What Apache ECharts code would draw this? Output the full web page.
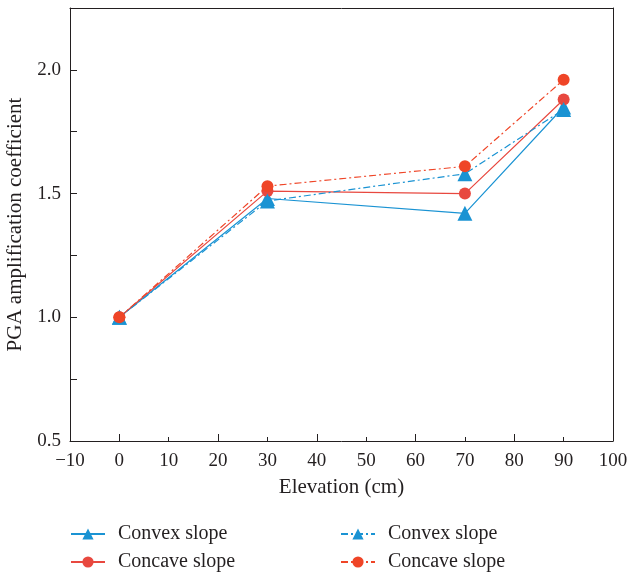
<!DOCTYPE html>
<html>
<head>
<meta charset="utf-8">
<script src="https://cdn.jsdelivr.net/npm/echarts@6/dist/echarts.min.js"></script>
<style>
  html, body { margin: 0; padding: 0; background: #fff; }
  #chart { width: 627px; height: 575px; }
</style>
</head>
<body>
<div id="chart"></div>
<script>
// Elevation of monitoring points (cm)
const elevations = [0, 30, 70, 90];
// PGA amplification coefficients
const convexSolid = [1.00, 1.48, 1.42, 1.85];
const concaveSolid = [1.00, 1.51, 1.50, 1.88];
const convexDashDot = [1.00, 1.47, 1.58, 1.84];
const concaveDashDot = [1.00, 1.53, 1.61, 1.96];
const xTicks = [-10, 0, 10, 20, 30, 40, 50, 60, 70, 80, 90, 100];
const xLongTicks = [0, 20, 40, 60, 80];
const yTickLabels = [0.5, 1.0, 1.5, 2.0];

const BLUE = '#1a93d3';
const RED = '#e8483f';
const RED2 = '#ef4527';
const INK = '#231f20';
const FONT = '"Liberation Serif", "DejaVu Serif", serif';
const dashDot = [7, 3, 2, 3];

const pairs = ys => elevations.map((x, i) => [x, ys[i]]);

function series(name, ys, color, symbol, size, dashed) {
  return {
    name: name,
    type: 'line',
    data: pairs(ys),
    symbol: symbol,
    symbolSize: size,
    itemStyle: { color: color },
    lineStyle: { color: color, width: 1.2, type: dashed ? dashDot : 'solid' },
    emphasis: { disabled: true },
    z: dashed ? 3 : 2
  };
}

// the second pair shares its labels with the first; a zero-width space keeps names distinct
const ZW = '\u200b';

function legendItem(name, left, top) {
  return {
    data: [name], left: left, top: top,
    itemWidth: 34, itemHeight: 14,
    textStyle: { fontFamily: FONT, fontSize: 20, color: INK, padding: [0, 0, 0, 8] },
    selectedMode: false
  };
}

const chart = echarts.init(document.getElementById('chart'), null, { renderer: 'canvas' });
chart.setOption({
  animation: false,
  backgroundColor: '#fff',
  grid: { left: 70, right: 14, top: 8, bottom: 134, containLabel: false, outerBoundsMode: 'none' },
  xAxis: [
    {
      type: 'value', min: -10, max: 100, interval: 10,
      name: 'Elevation (cm)', nameLocation: 'middle', nameGap: 36,
      nameTextStyle: { fontFamily: FONT, fontSize: 21, color: INK },
      axisLine: { onZero: false, lineStyle: { color: INK, width: 1 } },
      axisTick: { inside: true, length: 4, lineStyle: { color: INK }, customValues: xTicks },
      axisLabel: {
        fontFamily: FONT, fontSize: 19, color: INK, margin: 11, customValues: xTicks,
        formatter: v => String(v).replace('-', '\u2212')
      },
      splitLine: { show: false }
    },
    {
      // longer inner ticks at every other division
      type: 'value', min: -10, max: 100, position: 'bottom',
      axisLine: { show: false, onZero: false },
      axisTick: { inside: true, length: 7, lineStyle: { color: INK }, customValues: xLongTicks },
      axisLabel: { show: false },
      splitLine: { show: false }
    },
    {
      type: 'value', min: -10, max: 100, position: 'top',
      axisLine: { show: true, onZero: false, lineStyle: { color: INK } },
      axisTick: { show: false }, axisLabel: { show: false }, splitLine: { show: false }
    }
  ],
  yAxis: [
    {
      type: 'value', min: 0.5, max: 2.25, interval: 0.25,
      name: 'PGA amplification coefficient', nameLocation: 'middle', nameGap: 38,
      nameTextStyle: { fontFamily: FONT, fontSize: 21, color: INK },
      axisLine: { show: true, onZero: false, lineStyle: { color: INK, width: 1 } },
      axisTick: { show: true, inside: true, length: 7, lineStyle: { color: INK } },
      axisLabel: {
        fontFamily: FONT, fontSize: 19, color: INK, margin: 9,
        customValues: yTickLabels,
        formatter: v => v.toFixed(1)
      },
      splitLine: { show: false }
    },
    {
      type: 'value', min: 0.5, max: 2.25, position: 'right',
      axisLine: { show: true, onZero: false, lineStyle: { color: INK } },
      axisTick: { show: false }, axisLabel: { show: false }, splitLine: { show: false }
    }
  ],
  legend: [
    legendItem('Convex slope', 65, 519),
    legendItem('Concave slope', 65, 547),
    legendItem('Convex slope' + ZW, 335, 519),
    legendItem('Concave slope' + ZW, 335, 547)
  ],
  series: [
    series('Convex slope', convexSolid, BLUE, 'triangle', 15, false),
    series('Concave slope', concaveSolid, RED, 'circle', 12, false),
    series('Convex slope' + ZW, convexDashDot, BLUE, 'triangle', 15, true),
    series('Concave slope' + ZW, concaveDashDot, RED2, 'circle', 12, true)
  ]
});
</script>
</body>
</html>
